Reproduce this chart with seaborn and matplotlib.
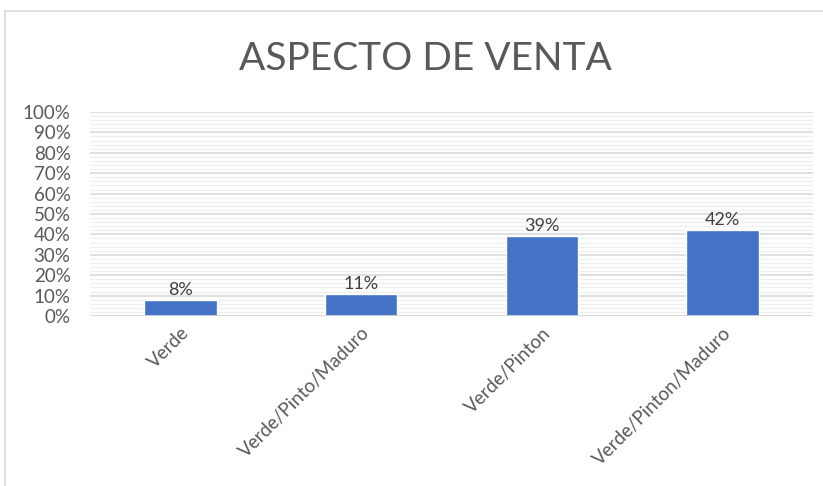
import matplotlib
matplotlib.use("Agg")
import matplotlib.pyplot as plt
import seaborn as sns
import pandas as pd
import numpy as np
from matplotlib.patches import Rectangle
from matplotlib.ticker import MultipleLocator, PercentFormatter

categories = ["Verde", "Verde/Pinto/Maduro", "Verde/Pinton", "Verde/Pinton/Maduro"]
values = [8, 11, 39, 42]
value_labels = ["8%", "11%", "39%", "42%"]
title = "ASPECTO DE VENTA"

sns.set_theme(style="white")
plt.rcParams['font.family'] = ['Lato', 'DejaVu Sans']

df = pd.DataFrame({"cat": categories, "val": values})

fig = plt.figure(figsize=(8.23, 4.86), dpi=100)
fig.patches.append(Rectangle((5/823, -0.1), 1.2, 1 - 11/486 + 0.1, transform=fig.transFigure,
                             fill=False, edgecolor="#d9d9d9", linewidth=1.2))
ax = fig.add_axes([90/823, 1 - 316/486, (813 - 90)/823, (316 - 112)/486])

sns.barplot(data=df, x="cat", y="val", color="#4472C4", width=0.4, ax=ax, saturation=1)

ax.set_ylim(0, 100)
ax.set_xlim(-0.5, 3.5)
ax.yaxis.set_major_locator(MultipleLocator(10))
ax.yaxis.set_minor_locator(MultipleLocator(2))
ax.yaxis.set_major_formatter(PercentFormatter(decimals=0))
ax.grid(which="major", axis="y", color="#d9d9d9", linewidth=1.2)
ax.grid(which="minor", axis="y", color="#efefef", linewidth=0.9)
ax.set_axisbelow(True)
for s in ax.spines.values():
    s.set_visible(False)
ax.axhline(0, color="#d9d9d9", linewidth=1.2, zorder=1)

ax.set_xlabel("")
ax.set_ylabel("")
ax.tick_params(axis="y", which="both", length=0, labelsize=13.5, labelcolor="#595959", pad=14)
ax.tick_params(axis="x", length=0, labelsize=13.5, labelcolor="#595959", pad=6)
plt.setp(ax.get_xticklabels(), rotation=45, ha="right", rotation_mode="anchor")

for i, (v, lab) in enumerate(zip(values, value_labels)):
    ax.text(i, v + 1.0, lab, ha="center", va="bottom", fontsize=13, color="#404040")

fig.text(425/823, 1 - 59/486, title, ha="center", va="center", fontsize=28,
         color="#595959")

fig.savefig("out.png", dpi=100)
